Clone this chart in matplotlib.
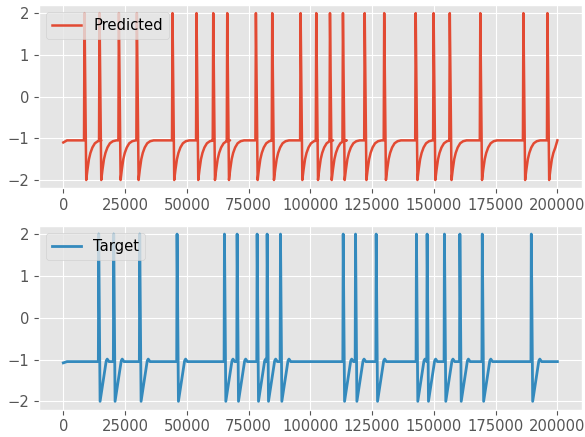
import numpy as np
import matplotlib
matplotlib.use('Agg')
from matplotlib import pyplot as plt

# spike onset times
predicted_spikes = [8380, 14460, 22290, 29570, 44000, 53730, 60490, 66160, 77760, 84370,
                    95860, 102200, 107750, 113000, 121800, 129700, 142450, 149700, 156250,
                    168600, 186050, 195780]
target_spikes = [14180, 20250, 30780, 45900, 65080, 70210, 78310, 82360, 87760,
                 113150, 118140, 126500, 142800, 147120, 154130, 160380, 169450, 189300]

# spike shape: offsets from onset and values
predicted_shape_dt = [0, 200, 900, 1400, 2000, 2600, 3400, 4400, 5600, 7000]
predicted_shape_y = [-1.05, 2.0, -2.0, -1.75, -1.5, -1.35, -1.22, -1.12, -1.07, -1.05]
target_shape_dt = [0, 150, 700, 3200, 3600, 4300]
target_shape_y = [-1.05, 2.0, -2.0, -1.03, -0.99, -1.05]

baseline = -1.05
x_end = 200000


def build_series(spikes, shape_dt, shape_y, start_y):
    xs = [0, 1500]
    ys = [start_y, baseline]
    for t in spikes:
        for dt, v in zip(shape_dt, shape_y):
            if t + dt < x_end:
                xs.append(t + dt)
                ys.append(v)
    xs.append(x_end)
    ys.append(baseline)
    return np.array(xs), np.array(ys)


plt.style.use('ggplot')
plt.rcParams['font.size'] = 10.6
fig = plt.figure(figsize=(5.85, 4.37), dpi=100)
ax1 = fig.add_axes([0.066, 0.569, 0.929, 0.42])
ax2 = fig.add_axes([0.066, 0.0625, 0.929, 0.421])

px, py = build_series(predicted_spikes, predicted_shape_dt, predicted_shape_y, -1.1)
tx, ty = build_series(target_spikes, target_shape_dt, target_shape_y, -1.08)

ax1.plot(px, py, color='#E24A33', lw=1.8, label='Predicted')
ax1.legend(loc='upper left')
ax2.plot(tx, ty, color='#348ABD', lw=2.0, label='Target')
ax2.legend(loc='upper left')

for ax in (ax1, ax2):
    ax.set_yticks([-2, -1, 0, 1, 2])
    ax.set_xticks([0, 25000, 50000, 75000, 100000, 125000, 150000, 175000, 200000])

fig.savefig('out.png', dpi=100)
